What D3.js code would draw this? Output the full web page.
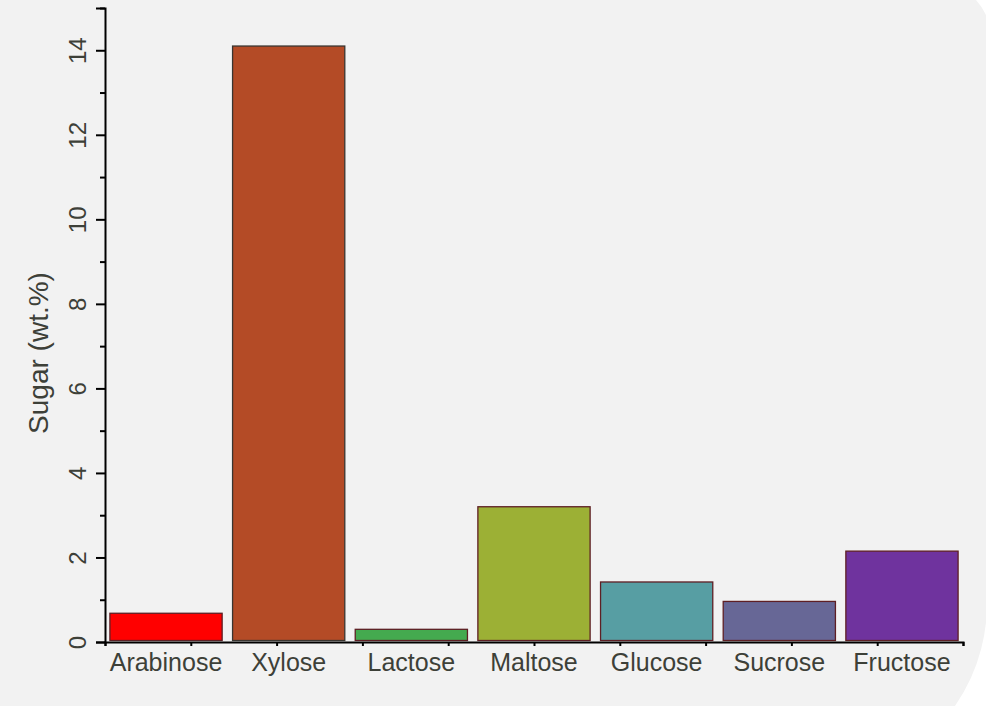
<!DOCTYPE html>
<html>
<head>
<meta charset="utf-8">
<script src="https://cdn.jsdelivr.net/npm/d3@7"></script>
<style>
  html, body { margin: 0; padding: 0; background: #ffffff; }
  svg { display: block; }
</style>
</head>
<body>
<svg id="chart" width="986" height="706"></svg>
<script>
// Sugar composition (wt.%)
const categories = ["Arabinose", "Xylose", "Lactose", "Maltose", "Glucose", "Sucrose", "Fructose"];
const values = [0.68, 14.1, 0.3, 3.2, 1.42, 0.96, 2.15];
const barColors = ["#ff0000", "#b44b26", "#44aa4f", "#9cb035", "#579ea3", "#676796", "#6f339e"];
const yTicks = [0, 2, 4, 6, 8, 10, 12, 14];
const yMinorTicks = [1, 3, 5, 7, 9, 11, 13, 15];

const W = 986, H = 706;
const margin = { left: 105, right: 23, top: 8, bottom: 64 };
const svg = d3.select("#chart");

// Panel background with curved right edge
svg.append("path")
  .attr("d", `M0,0 L976,0 A60,60 0 0 1 ${W},15 L${W},585 A180,180 0 0 1 955,${H} L0,${H} Z`)
  .attr("fill", "#f2f2f2");

const x = d3.scaleBand()
  .domain(categories)
  .range([margin.left, W - margin.right])
  .paddingInner(0.085)
  .paddingOuter(0.04);

const y = d3.scaleLinear()
  .domain([0, 15])
  .range([H - margin.bottom, margin.top]);

// Bars
svg.append("g")
  .selectAll("rect")
  .data(categories)
  .join("rect")
  .attr("x", d => x(d))
  .attr("y", (d, i) => y(values[i]))
  .attr("width", x.bandwidth())
  .attr("height", (d, i) => y(0) - y(values[i]) - 1.5)
  .attr("fill", (d, i) => barColors[i])
  .attr("stroke", (d, i) => i === 1 ? "#3a3530" : "#5e1f24")
  .attr("stroke-width", 1.3);

const textColor = "#3d4038";
const font = "'Liberation Sans', Arial, sans-serif";

// Y axis: major ticks with rotated labels
const yAxis = svg.append("g").attr("transform", `translate(${margin.left},0)`);
yAxis.call(d3.axisLeft(y).tickValues(yTicks).tickSize(9).tickFormat(d3.format("d")));
yAxis.select(".domain").attr("stroke", "#000").attr("stroke-width", 2);
yAxis.selectAll(".tick line").attr("stroke", "#000").attr("stroke-width", 2);
yAxis.selectAll(".tick text")
  .attr("font-family", font)
  .attr("font-size", 24)
  .attr("fill", textColor)
  .attr("transform", "rotate(-90)")
  .attr("x", 0)
  .attr("y", -27)
  .attr("dy", "0.35em")
  .attr("text-anchor", "middle");

// Y axis: minor ticks
const yMinor = svg.append("g").attr("transform", `translate(${margin.left},0)`);
yMinor.call(d3.axisLeft(y).tickValues(yMinorTicks).tickSize(5).tickFormat(""));
yMinor.select(".domain").remove();
yMinor.selectAll(".tick line").attr("stroke", "#000").attr("stroke-width", 2);

// X axis with evenly spaced ticks along the baseline
const xTickScale = d3.scaleLinear().domain([0, 10]).range([margin.left, W - margin.right]);
const xAxis = svg.append("g").attr("transform", `translate(0,${y(0)})`);
xAxis.call(d3.axisBottom(xTickScale).ticks(10).tickSize(4).tickFormat(""));
xAxis.select(".domain").attr("stroke", "#000").attr("stroke-width", 2);
xAxis.selectAll(".tick line").attr("stroke", "#000").attr("stroke-width", 2);

// Category labels
svg.append("g")
  .selectAll("text")
  .data(categories)
  .join("text")
  .attr("x", d => x(d) + x.bandwidth() / 2)
  .attr("y", 671)
  .attr("text-anchor", "middle")
  .attr("font-family", font)
  .attr("font-size", 25)
  .attr("fill", textColor)
  .text(d => d);

// Y axis title
svg.append("text")
  .attr("transform", `translate(38,353) rotate(-90)`)
  .attr("text-anchor", "middle")
  .attr("dy", "0.35em")
  .attr("font-family", font)
  .attr("font-size", 28)
  .attr("fill", textColor)
  .text("Sugar (wt.%)");
</script>
</body>
</html>
